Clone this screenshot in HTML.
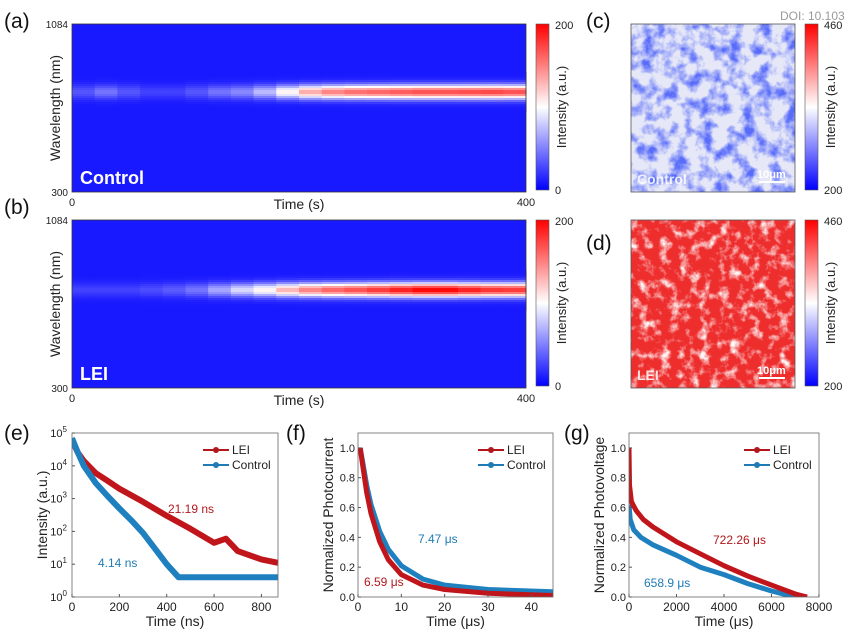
<!DOCTYPE html>
<html><head><meta charset="utf-8"><style>
body{margin:0;background:#fff;}
svg{display:block;font-family:"Liberation Sans",Arial,sans-serif;}
</style></head><body>
<svg id="fig" width="856" height="635" viewBox="0 0 856 635">
<defs>
<linearGradient id="cbar" x1="0" y1="1" x2="0" y2="0">
<stop offset="0" stop-color="#0000ff"/><stop offset="0.5" stop-color="#ffffff"/><stop offset="1" stop-color="#ff0000"/>
</linearGradient>
<filter id="noiseC" x="0" y="0" width="100%" height="100%">
<feTurbulence type="fractalNoise" baseFrequency="0.07" numOctaves="4" seed="4" result="n"/>
<feColorMatrix in="n" type="matrix" values="0 0 0 0 0.1  0 0 0 0 0.15  0 0 0 0 0.95  0 0 0 -3.0 1.75"/>
</filter>
<filter id="noiseD" x="0" y="0" width="100%" height="100%">
<feTurbulence type="fractalNoise" baseFrequency="0.1" numOctaves="4" seed="9" result="n"/>
<feColorMatrix in="n" type="matrix" values="0 0 0 0 1  0 0 0 0 0.93  0 0 0 0 0.93  0 0 0 -3.0 1.55"/>
</filter>
</defs>
<g id="root"></g>
</svg>
<script>
// ---- data ----
const heatTimes = [0,20,40,60,80,100,120,140,160,180,200,220,240,260,280,300,320,340,360,380];
const controlBand = [0.12,0.18,0.12,0.08,0.08,0.12,0.18,0.22,0.32,0.48,0.62,0.7,0.74,0.76,0.78,0.8,0.8,0.81,0.82,0.8];
const leiBand = [0.08,0.08,0.08,0.1,0.13,0.18,0.28,0.38,0.48,0.6,0.7,0.76,0.8,0.85,0.9,0.95,0.95,0.9,0.86,0.85];
const trplTime = [0,25,50,100,150,200,300,400,500,600,650,700,800,870];
const trplLEI = [60000,25000,14000,6000,3500,2000,800,300,120,45,60,25,14,11];
const trplCtrlTime = [0,25,50,100,150,200,250,300,350,400,450,870];
const trplCtrl = [70000,25000,10000,3000,1200,500,220,90,30,10,4,4];
const tpcTime = [0.5,1,2,3,5,7,10,15,20,30,45];
const tpcLEI = [1.0,0.9,0.7,0.56,0.37,0.25,0.15,0.08,0.05,0.025,0.01];
const tpcCtrl = [1.0,0.92,0.75,0.62,0.44,0.32,0.21,0.12,0.08,0.05,0.035];
const tpvTime = [0,20,100,300,600,1000,2000,3000,4000,5000,6000,7000,7500];
const tpvLEI = [1.0,0.75,0.64,0.58,0.52,0.47,0.37,0.29,0.21,0.14,0.08,0.02,0];
const tpvCtrlTime = [0,50,200,500,1000,2000,3000,4000,5000,6000,7000];
const tpvCtrl = [0.62,0.52,0.45,0.4,0.35,0.28,0.2,0.15,0.09,0.04,0];
const eTicks = [0,200,400,600,800];
const fTicks = [0,10,20,30,40];
const gTicks = [0,2000,4000,6000,8000];
const yTicks01 = [0,0.2,0.4,0.6,0.8,1.0];

const NS="http://www.w3.org/2000/svg";
const root=document.getElementById('root');
function el(tag,attrs,parent){const e=document.createElementNS(NS,tag);for(const k in attrs)e.setAttribute(k,attrs[k]);(parent||root).appendChild(e);return e;}
function txt(s,x,y,attrs,parent){const t=el('text',Object.assign({x:x,y:y,'font-size':12,fill:'#222'},attrs||{}),parent);t.textContent=s;return t;}
function cmap(v){v=Math.max(0,Math.min(1,v));let r,g,b;if(v<0.5){const f=v/0.5;r=255*f;g=255*f;b=255;}else{const f=(v-0.5)/0.5;r=255;g=255*(1-f);b=255*(1-f);}return `rgb(${r|0},${g|0},${b|0})`;}

// ---- heatmaps ----
function heatmap(name,x0,y0,w,h,band,bandY,label){
  const g=el('g',{});
  
  
  const xs=t=>x0+t/400*w;
  el('rect',{x:x0,y:y0,width:w,height:h,fill:cmap(0.05)},g);
  const step=2;
  for(let i=0;i<heatTimes.length;i++){
    const xa=xs(heatTimes[i]), xb=(i+1<heatTimes.length)?xs(heatTimes[i+1]):x0+w;
    for(let y=bandY-20;y<bandY+20;y+=step){
      const d=(y+step/2-bandY)/7;
      const v=0.05+band[i]*Math.exp(-d*d);
      const r=el('rect',{x:xa,y:y,width:xb-xa+0.5,height:step+0.3,fill:cmap(v)},g);
      
      
    }
  }
  el('rect',{x:x0,y:y0,width:w,height:h,fill:'none',stroke:'#333','stroke-width':0.8},g);
  txt('1084',x0-4,y0+4,{'text-anchor':'end','font-size':10},g);
  txt('300',x0-4,y0+h+4,{'text-anchor':'end','font-size':10},g);
  txt('0',x0,y0+h+14,{'text-anchor':'middle','font-size':11},g);
  txt('400',x0+w,y0+h+14,{'text-anchor':'middle','font-size':11},g);
  txt('Time (s)',x0+w/2,y0+h+17,{'text-anchor':'middle','font-size':14},g);
  txt('Wavelength (nm)',0,0,{'text-anchor':'middle','font-size':14,transform:`translate(${x0-12},${y0+h/2}) rotate(-90)`},g);
  txt(label,x0+8,y0+h-8,{'font-size':18,'font-weight':'bold',fill:'#fff'},g);
}
heatmap('heatmap-control',72,24,454,168,controlBand,92,'Control');
heatmap('heatmap-lei',72,220,454,168,leiBand,290,'LEI');

function colorbar(name,x,y,h,lo,hi){
  const g=el('g',{});
  
  
  el('rect',{x:x,y:y,width:13,height:h,fill:'url(#cbar)',stroke:'#555','stroke-width':0.6},g);
  txt(hi,x+19,y+5,{'font-size':11},g);
  txt(lo,x+19,y+h+4,{'font-size':11},g);
  txt('Intensity (a.u.)',0,0,{'text-anchor':'middle','font-size':13,transform:`translate(${x+30},${y+h/2}) rotate(-90)`},g);
}
colorbar('colorbar-a',536,24,166,'0','200');
colorbar('colorbar-b',536,220,166,'0','200');
colorbar('colorbar-c',805,24,166,'200','460');
colorbar('colorbar-d',805,220,166,'200','460');

// ---- PL maps ----
function map(name,y,base,filt,label){
  const g=el('g',{});
  
  
  el('rect',{x:631,y:y,width:164,height:168,fill:base},g);
  el('rect',{x:631,y:y,width:164,height:168,filter:filt},g);
  el('rect',{x:631,y:y,width:164,height:168,fill:'none',stroke:'#555','stroke-width':0.8},g);
  txt(label,637,y+160,{'font-size':14,'font-weight':'bold',fill:'#fff','fill-opacity':0.85},g);
  txt('10μm',757,y+154,{'font-size':11,'font-weight':'bold',fill:'#fff'},g);
  el('line',{x1:759,y1:y+158,x2:785,y2:y+158,stroke:'#fff','stroke-width':2},g);
}
map('pl-map-control',24,'#e6e8f8','url(#noiseC)','Control');
map('pl-map-lei',220,'#ee2d2d','url(#noiseD)','LEI');
txt('DOI: 10.103',780,20,{'font-size':12,fill:'#999'});

// panel labels
[['(a)',4,28],['(b)',4,214],['(c)',586,28],['(d)',586,250],['(e)',4,440],['(f)',286,440],['(g)',564,440]].forEach(p=>{
  const t=txt(p[0],p[1],p[2],{'font-size':21,fill:'#111'});
  
  
});

// ---- line charts ----
function chart(name,x0,y0,w,h,xmax,ys,ticks,yt,ylabel,xlabel,series,notes){
  const g=el('g',{});
  
  
  const sx=v=>x0+v/xmax*w;
  const clip='clip-'+name;
  const cp=el('clipPath',{id:clip},g);el('rect',{x:x0,y:y0,width:w,height:h},cp);
  series.forEach(s=>{
    const pts=s.x.map((t,i)=>sx(t).toFixed(1)+','+ys(s.y[i]).toFixed(1)).join(' ');
    const l=el('polyline',{points:pts,fill:'none',stroke:s.c,'stroke-width':s.w||4,'stroke-linejoin':'round','clip-path':`url(#${clip})`},g);
    
    
  });
  el('rect',{x:x0,y:y0,width:w,height:h,fill:'none',stroke:'#666','stroke-width':0.8},g);
  ticks.forEach(t=>{const x=sx(t);el('line',{x1:x,y1:y0+h,x2:x,y2:y0+h-3,stroke:'#555'},g);txt(String(t),x,y0+h+14,{'text-anchor':'middle','font-size':12},g);});
  yt.forEach(t=>{const y=ys(t.v);el('line',{x1:x0,y1:y,x2:x0+3,y2:y,stroke:'#555'},g);
    if(t.sup){const tt=txt('10',x0-5,y+4,{'text-anchor':'end','font-size':11},g);const s=el('tspan',{dy:-5,'font-size':8},tt);s.textContent=t.sup;}
    else txt(t.v.toFixed(1),x0-3,y+4,{'text-anchor':'end','font-size':11},g);});
  txt(xlabel,x0+w/2,y0+h+29,{'text-anchor':'middle','font-size':14},g);
  txt(ylabel,0,0,{'text-anchor':'middle','font-size':14,transform:`translate(${x0-25},${y0+h/2}) rotate(-90)`},g);
  // legend
  [['LEI','#b3171b',0],['Control','#1f7bb5',15]].forEach(L=>{
    const ly=y0+17+L[2], lx=x0+w-75;
    const lg=el('g',{},g);
    
    
    el('line',{x1:lx,y1:ly,x2:lx+26,y2:ly,stroke:L[1],'stroke-width':2},lg);
    el('circle',{cx:lx+13,cy:ly,r:3,fill:L[1]},lg);
    txt(L[0],lx+29,ly+4,{'font-size':12},lg);
  });
  notes.forEach(n=>txt(n[0],n[1],n[2],{'font-size':12,fill:n[3]},g));
}
const eY=v=>597-Math.log10(v)/5*164;
chart('chart-trpl',72,433,206,164,870,eY,eTicks,[0,1,2,3,4,5].map(k=>({v:Math.pow(10,k),sup:String(k)})),'Intensity (a.u.)','Time (ns)',
 [{n:'lei',x:trplTime,y:trplLEI,c:'#c0161b',w:6},{n:'control',x:trplCtrlTime,y:trplCtrl,c:'#1f80c0',w:6}],
 [['21.19 ns',168,513,'#b3171b'],['4.14 ns',98,567,'#1f7bb5']]);
const lY=v=>597-v/1.1*164;
chart('chart-tpc',358,433,195,164,45,lY,fTicks,yTicks01.map(v=>({v})),'Normalized Photocurrent','Time (μs)',
 [{n:'control',x:tpcTime,y:tpcCtrl,c:'#1f80c0',w:5},{n:'lei',x:tpcTime,y:tpcLEI,c:'#c0161b',w:5}],
 [['7.47 μs',418,543,'#1f7bb5'],['6.59 μs',364,586,'#b3171b']]);
chart('chart-tpv',629,433,190,164,8000,lY,gTicks,yTicks01.map(v=>({v})),'Normalized Photovoltage','Time (μs)',
 [{n:'control',x:tpvCtrlTime,y:tpvCtrl,c:'#1f80c0',w:5},{n:'lei',x:tpvTime,y:tpvLEI,c:'#c0161b',w:5}],
 [['722.26 μs',713,544,'#b3171b'],['658.9 μs',644,587,'#1f7bb5']]);
</script>
</body></html>
